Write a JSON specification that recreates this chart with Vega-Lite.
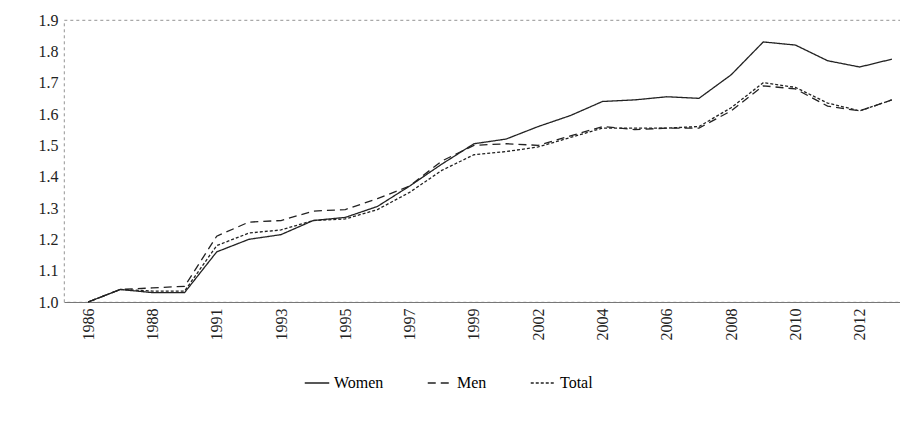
{
  "$schema": "https://vega.github.io/schema/vega-lite/v6.json",
  "width": 852,
  "height": 282,
  "padding": {"left": 4, "top": 12, "right": 6, "bottom": 4},
  "background": "white",
  "config": {
    "font": "Liberation Serif",
    "view": {"stroke": "#777", "strokeDash": [3, 3], "strokeWidth": 0.8},
    "axis": {"grid": false, "labelFont": "Liberation Serif", "labelFontSize": 15, "labelColor": "#222", "domainColor": "#777", "tickColor": "#777"}
  },
  "title": {
    "text": "Source: Authors’ calculations based on Quadros de Pessoal.",
    "orient": "bottom", "anchor": "start", "font": "Liberation Serif", "fontSize": 17,
    "fontStyle": "italic", "fontWeight": "normal", "color": "#222", "offset": 62, "dx": -34
  },
  "data": {"values": [
    {"year": "1986", "Women": 1.0, "Men": 1.0, "Total": 1.0},
    {"year": "1987", "Women": 1.04, "Men": 1.04, "Total": 1.04},
    {"year": "1988", "Women": 1.03, "Men": 1.045, "Total": 1.035},
    {"year": "1989", "Women": 1.03, "Men": 1.05, "Total": 1.035},
    {"year": "1991", "Women": 1.16, "Men": 1.21, "Total": 1.18},
    {"year": "1992", "Women": 1.2, "Men": 1.255, "Total": 1.22},
    {"year": "1993", "Women": 1.215, "Men": 1.26, "Total": 1.23},
    {"year": "1994", "Women": 1.26, "Men": 1.29, "Total": 1.26},
    {"year": "1995", "Women": 1.27, "Men": 1.295, "Total": 1.265},
    {"year": "1996", "Women": 1.305, "Men": 1.33, "Total": 1.295},
    {"year": "1997", "Women": 1.37, "Men": 1.37, "Total": 1.35},
    {"year": "1998", "Women": 1.44, "Men": 1.45, "Total": 1.42},
    {"year": "1999", "Women": 1.505, "Men": 1.5, "Total": 1.47},
    {"year": "2000", "Women": 1.52, "Men": 1.505, "Total": 1.48},
    {"year": "2002", "Women": 1.56, "Men": 1.5, "Total": 1.495},
    {"year": "2003", "Women": 1.595, "Men": 1.53, "Total": 1.525},
    {"year": "2004", "Women": 1.64, "Men": 1.56, "Total": 1.555},
    {"year": "2005", "Women": 1.645, "Men": 1.55, "Total": 1.555},
    {"year": "2006", "Women": 1.655, "Men": 1.555, "Total": 1.555},
    {"year": "2007", "Women": 1.65, "Men": 1.555, "Total": 1.56},
    {"year": "2008", "Women": 1.725, "Men": 1.61, "Total": 1.62},
    {"year": "2009", "Women": 1.83, "Men": 1.69, "Total": 1.7},
    {"year": "2010", "Women": 1.82, "Men": 1.68, "Total": 1.685},
    {"year": "2011", "Women": 1.77, "Men": 1.625, "Total": 1.635},
    {"year": "2012", "Women": 1.75, "Men": 1.61, "Total": 1.61},
    {"year": "2013", "Women": 1.775, "Men": 1.645, "Total": 1.645}
  ]},
  "transform": [{"fold": ["Women", "Men", "Total"], "as": ["series", "value"]}],
  "mark": {"type": "line", "strokeWidth": 1.3},
  "encoding": {
    "x": {
      "field": "year", "type": "ordinal", "title": null,
      "scale": {"type": "point", "padding": 0.75},
      "axis": {"labelAngle": -90, "ticks": false, "labelPadding": 6, "labelBaseline": "middle",
        "labelFont": "Liberation Serif", "labelFontSize": 16,
        "labelExpr": "indexof(['1986','1988','1991','1993','1995','1997','1999','2002','2004','2006','2008','2010','2012'], datum.value) >= 0 ? datum.value : ''"}
    },
    "y": {
      "field": "value", "type": "quantitative", "title": null,
      "scale": {"domain": [1.0, 1.9], "nice": false},
      "axis": {"values": [1.0, 1.1, 1.2, 1.3, 1.4, 1.5, 1.6, 1.7, 1.8, 1.9], "format": ".1f", "ticks": false, "domain": false, "labelPadding": 6, "labelFont": "Liberation Serif", "labelFontSize": 16}
    },
    "strokeDash": {
      "field": "series", "type": "nominal", "sort": ["Women", "Men", "Total"],
      "scale": {"domain": ["Women", "Men", "Total"], "range": [[1, 0], [8, 5], [3, 2]]},
      "legend": {"orient": "none", "legendX": 240, "legendY": 350, "direction": "horizontal", "title": null, "labelFontSize": 16, "labelFont": "Liberation Serif", "symbolSize": 600, "symbolStrokeColor": "#222", "columnPadding": 40}
    },
    "color": {"value": "#222"}
  }
}
